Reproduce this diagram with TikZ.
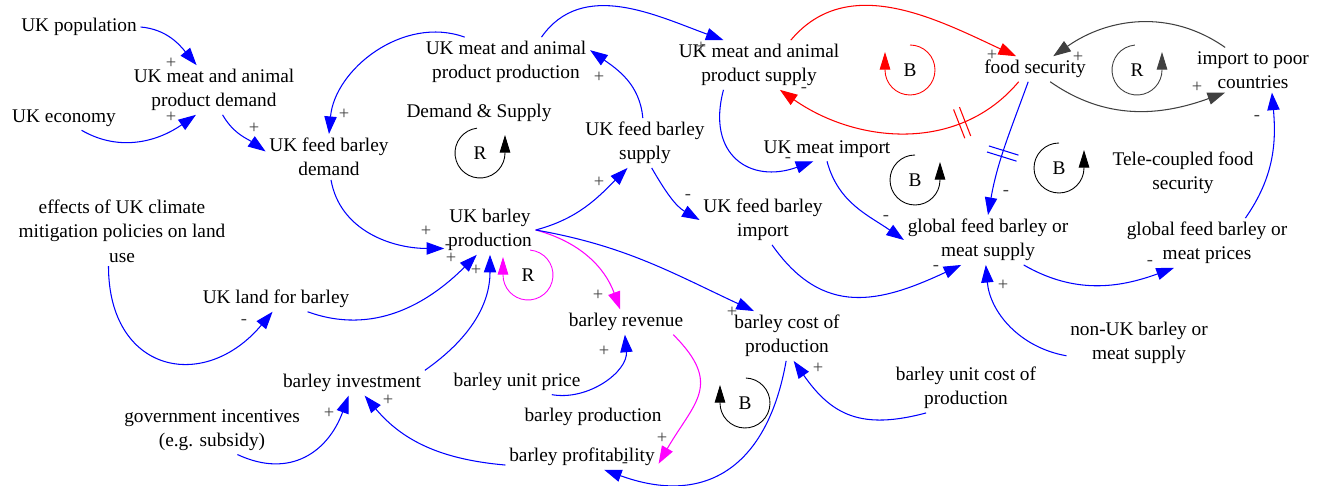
\documentclass[tikz,border=0pt]{standalone}
\usepackage{fontspec}
\setmainfont{Liberation Serif}
\usepackage{tikz}
\usetikzlibrary{arrows.meta}
\definecolor{loopmagenta}{RGB}{255,0,255}
\definecolor{linkblue}{RGB}{0,0,255}
\definecolor{linkred}{RGB}{255,0,0}
\tikzstyle{var}=[
        inner sep=2pt,
        align=center,
        font=\fontsize{11}{13.9}\selectfont
]
\tikzstyle{polarity}=[
        inner sep=0pt,
        text=black!75,
        font=\fontsize{10.5}{12}\selectfont
]
\tikzstyle{link}=[
        draw=linkblue,
        line width=0.6pt,
        -{Triangle[length=10pt,width=7pt]}
]
\tikzstyle{redlink}=[link,draw=linkred]
\tikzstyle{greylink}=[link,draw=black!75]
\tikzstyle{pinklink}=[link,draw=loopmagenta]
\tikzstyle{loopname}=[
        inner sep=0pt,
        font=\fontsize{11}{13.9}\selectfont
]
\tikzstyle{looparrow}=[
        line width=0.5pt,
        -{Triangle[length=10pt,width=6pt]}
]
\tikzstyle{delay}=[
        sloped,
        inner sep=0pt,
        minimum width=3pt,
        minimum height=17pt
]

\begin{document}
\begin{tikzpicture}[x=0.02cm,y=0.02cm]
                        \useasboundingbox (0,0) rectangle (1322,486);

                        \node[var] (pop) at (79,459) {UK population};
                        \node[var] (econ) at (64,368) {UK economy};
                        \node[var] (demand) at (214,396) {UK meat and animal\\product demand};
                        \node[var] (feeddem) at (329,329) {UK feed barley\\demand};
                        \node[var] (prod) at (506,424) {UK meat and animal\\product production};
                        \node[var] (dslabel) at (479,373) {Demand \& Supply};
                        \node[var] (supply) at (645,343) {UK feed barley\\supply};
                        \node[var] (msupply) at (759,421) {UK meat and animal\\product supply};
                        \node[var] (fs) at (1035,417) {food security};
                        \node[var] (poor) at (1253,416) {import to poor\\countries};
                        \node[var] (mimport) at (827,337) {UK meat import};
                        \node[var] (tele) at (1183,313) {Tele-coupled food\\security};
                        \node[var] (fimport) at (763,266) {UK feed barley\\import};
                        \node[var] (gsupply) at (988,246) {global feed barley or\\meat supply};
                        \node[var] (gprices) at (1207,243) {global feed barley or\\meat prices};
                        \node[var] (effects) at (122,255) {effects of UK climate\\mitigation policies on land\\use};
                        \node[var] (bprod) at (490,256) {UK barley\\production};
                        \node[var] (land) at (276,187) {UK land for barley};
                        \node[var] (revenue) at (626,164) {barley revenue};
                        \node[var] (cost) at (787,150) {barley cost of\\production};
                        \node[var] (nonuk) at (1139,143) {non-UK barley or\\meat supply};
                        \node[var] (uprice) at (517,104) {barley unit price};
                        \node[var] (invest) at (352,103) {barley investment};
                        \node[var] (ucost) at (966,98) {barley unit cost of\\production};
                        \node[var] (gov) at (212,56) {government incentives\\(e.g. subsidy)};
                        \node[var] (bplabel) at (593,69) {barley production};
                        \node[var] (profit) at (582,29) {barley profitability};

                        \draw[link] (pop.east) to[out=-5,in=130] (demand.125);
                        \draw[link] (econ.-35) to[out=-30,in=215] (demand.234);
                        \draw[link] (demand.-71) to[out=-60,in=145] (feeddem.175);
                        \draw[link] (prod.149) to[out=160,in=85] (feeddem.north);
                        \draw[link] (feeddem.-85) to[out=-80,in=180] (bprod.202);
                        \draw[link] (bprod.east) to[out=15,in=225] (supply.235);
                        \draw[link] (supply.95) to[out=95,in=-35] (prod.8);
                        \draw[link] (prod.35) to[out=55,in=160] (msupply.145);
                        \draw[link] (msupply.215) to[out=-105,in=200,looseness=1.5] (mimport.222);

                        \draw[redlink] (fs.218) to[out=230,in=-35] node[delay,pos=0.27] (redcut) {} (msupply.-50);
                        \draw[linkred,line width=0.6pt] (redcut.north west) -- (redcut.south west)
                                (redcut.north east) -- (redcut.south east);
                        \draw[redlink] (msupply.38) to[out=50,in=155] (fs.146);

                        \draw[link] (fs.-118) to[out=-110,in=80] node[delay,pos=0.55] (bluecut) {} (gsupply.north);
                        \draw[linkblue,line width=0.6pt] (bluecut.north west) -- (bluecut.south west)
                                (bluecut.north east) -- (bluecut.south east);

                        \draw[greylink] (poor.141) to[out=145,in=35] (fs.35);
                        \draw[greylink] (fs.-40) to[out=-35,in=200] (poor.219);
                        \draw[link] (gprices.33) to[out=55,in=-85] (poor.-50);

                        \draw[link] (mimport.south) to[out=-75,in=145] (gsupply.west);
                        \draw[link] (supply.-75) to[out=-60,in=150] (fimport.west);
                        \draw[link] (fimport.-70) to[out=-55,in=205,looseness=1.2] (gsupply.223);
                        \draw[link] (gsupply.-35) to[out=-30,in=200] (gprices.217);
                        \draw[link] (nonuk.190) to[out=170,in=-85] (gsupply.-95);

                        \draw[link] (effects.-111) to[out=-90,in=230,looseness=1.6] (land.-105);
                        \draw[link] (land.-22) to[out=-20,in=225] (bprod.242);
                        \draw[link] (invest.north east) to[out=35,in=-90] (bprod.south);
                        \draw[pinklink] (bprod.east) to[out=-15,in=110] (revenue.115);
                        \draw[link] (bprod.east) to[out=-10,in=155] (cost.143);
                        \draw[link] (uprice.-20) to[out=-10,in=-85] (revenue.-95);
                        \draw[pinklink] (revenue.-15) to[out=-45,in=60,looseness=1.4] (profit.-5);
                        \draw[link] (cost.-92) to[out=-100,in=-20,looseness=1.3] (profit.-30);
                        \draw[link] (ucost.212) to[out=195,in=-55,looseness=1.2] (cost.-75);
                        \draw[link] (profit.186) to[out=175,in=-50] (invest.-45);
                        \draw[link] (gov.-44) to[out=-25,in=250,looseness=1.2] (invest.-105);

                        \foreach \x/\y/\kind/\col/\sa/\ea [count=\i] in {480/333/R/black/97/360,
                                910/416/B/linkred/90/-180, 1137/416/R/black!75/95/360,
                                915/306/B/black/90/360, 1059/318/B/black/90/360,
                                528/211/R/loopmagenta/85/-180, 745/83/B/black/88/-180} {
                            \node[loopname] (loop\i) at (\x,\y) {\kind};
                            \draw[looparrow,\col] (loop\i.center) ++(\sa:25)
                                arc[start angle=\sa,end angle=\ea,radius=25] -- ++(0,18);
                        }

                        \foreach \x/\y/\s [count=\i] in {171/423/+, 171/369/+, 254/358/+, 344/372/+,
                                599/409/+, 701/439/+, 804/396/-, 599/304/+, 688/289/-, 788/326/-,
                                886/268/-, 936/218/-, 992/431/+, 1078/429/+, 1197/399/+, 1257/368/-,
                                1006/293/-, 1150/223/-, 1003/201/+, 244/164/-, 426/255/+, 451/228/+,
                                476/216/+, 448/239/-, 598/191/+, 732/174/+, 604/135/+, 662/48/+,
                                625/21/-, 818/118/+, 388/86/+, 329/73/+} {
                            \node[polarity] (sign\i) at (\x,\y) {\s};
                        }

                    \end{tikzpicture}
\end{document}
